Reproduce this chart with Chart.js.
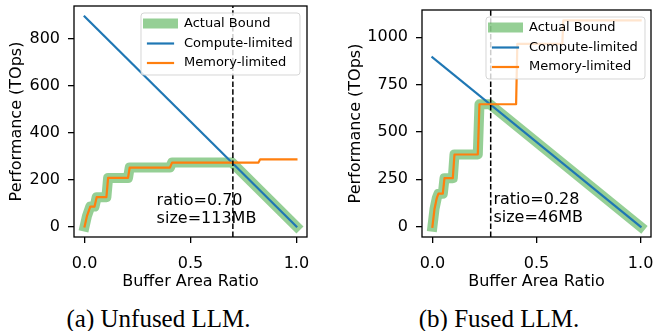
<!DOCTYPE html>
<html>
<head>
<meta charset="utf-8">
<script src="https://cdn.jsdelivr.net/npm/chart.js@4.4.1/dist/chart.umd.min.js"></script>
<style>
  html, body { margin: 0; padding: 0; background: #fff; }
  #wrap { position: relative; width: 654px; height: 331px; overflow: hidden; background: #fff; }
  canvas { position: absolute; top: 0; }
  .cap { position: absolute; top: 306px; font-family: "Liberation Serif", "Times New Roman", serif;
         font-size: 25px; line-height: 25px; white-space: nowrap; color: #000; transform: translateX(-50%); }
</style>
</head>
<body>
<div id="wrap">
  <canvas id="cA" width="327" height="300" style="left:0px"></canvas>
  <canvas id="cB" width="327" height="300" style="left:327px"></canvas>
  <div class="cap" style="left:158.5px">(a) Unfused LLM.</div>
  <div class="cap" style="left:499px">(b) Fused LLM.</div>
</div>
<script>
// ---------- data ----------
const seriesLabels = ['Actual Bound', 'Compute-limited', 'Memory-limited'];
const xTicks = [0, 0.5, 1.0];

// (a) unfused
const unfusedYTicks = [0, 200, 400, 600, 800];
const unfusedComputeX = [0, 1.0];
const unfusedComputeY = [894, 0];
const unfusedMemX = [0, 0.011, 0.027, 0.047, 0.057, 0.103, 0.111, 0.205, 0.213, 0.403, 0.413, 0.821, 0.829, 1.0];
const unfusedMemY = [0, 44, 85, 85, 125, 125, 207, 207, 251, 251, 272, 272, 286, 286];
const unfusedBoundX = [0, 0.011, 0.027, 0.047, 0.057, 0.103, 0.111, 0.205, 0.213, 0.403, 0.413, 0.696, 1.0];
const unfusedBoundY = [0, 44, 85, 85, 125, 125, 207, 207, 251, 251, 272, 272, 0];
const unfusedRatio = 0.70;
const unfusedSize = '113MB';

// (b) fused
const fusedYTicks = [0, 250, 500, 750, 1000];
const fusedComputeX = [0, 1.0];
const fusedComputeY = [894, 0];
const fusedMemX = [0, 0.01, 0.021, 0.029, 0.05, 0.058, 0.098, 0.106, 0.218, 0.226, 0.402, 0.408, 0.624, 0.629, 1.0];
const fusedMemY = [0, 93, 151, 174, 174, 256, 256, 381, 381, 646, 646, 965, 965, 1089, 1089];
const fusedBoundX = [0, 0.01, 0.021, 0.029, 0.05, 0.058, 0.098, 0.106, 0.218, 0.226, 0.277, 1.0];
const fusedBoundY = [0, 93, 151, 174, 174, 256, 256, 381, 381, 646, 646, 0];
const fusedRatio = 0.28;
const fusedSize = '46MB';

// ---------- drawing ----------
const FONT = '"DejaVu Sans", "Liberation Sans", sans-serif';
const toPts = (xs, ys) => xs.map((x, i) => ({ x, y: ys[i] }));

// dashed ratio marker, annotation, axes frame and in-axes legend
const panelDecor = {
  id: 'panelDecor',
  afterDatasetsDraw(chart, args, o) {
    const { ctx, chartArea: a, scales: { x } } = chart;
    ctx.save();
    // vertical marker
    const px = x.getPixelForValue(o.ratio);
    ctx.strokeStyle = '#000';
    ctx.lineWidth = 1.5;
    ctx.setLineDash([5.5, 2.4]);
    ctx.beginPath();
    ctx.moveTo(px, a.bottom);
    ctx.lineTo(px, a.top);
    ctx.stroke();
    ctx.setLineDash([]);

    // annotation text
    ctx.fillStyle = '#000';
    ctx.font = '16px ' + FONT;
    ctx.textAlign = 'left';
    ctx.textBaseline = 'alphabetic';
    const tx = x.getPixelForValue(o.textX);
    ctx.fillText('ratio=' + o.ratio.toFixed(2), tx, a.bottom - o.textBottom - 18);
    ctx.fillText('size=' + o.size, tx, a.bottom - o.textBottom);

    // frame
    ctx.lineWidth = 1.3;
    ctx.strokeStyle = '#000';
    ctx.strokeRect(a.left, a.top, a.right - a.left, a.bottom - a.top);

    // legend
    const w = 159, h = 62;
    const bx = a.right - o.legendInset - w, by = a.top + 7;
    ctx.beginPath();
    ctx.roundRect(bx, by, w, h, 3);
    ctx.fillStyle = 'rgba(255,255,255,0.8)';
    ctx.fill();
    ctx.lineWidth = 1;
    ctx.strokeStyle = 'rgba(204,204,204,0.8)';
    ctx.stroke();
    const rows = [10.5, 30.5, 50];
    chart.data.datasets.forEach((ds, i) => {
      const ry = by + rows[i];
      ctx.beginPath();
      ctx.lineCap = 'square';
      ctx.strokeStyle = ds.borderColor;
      ctx.lineWidth = ds.borderWidth;
      ctx.moveTo(bx + 7, ry);
      ctx.lineTo(bx + 32, ry);
      ctx.stroke();
      ctx.fillStyle = '#000';
      ctx.font = '13px ' + FONT;
      ctx.textBaseline = 'middle';
      ctx.fillText(ds.label, bx + 43, ry);
    });
    ctx.restore();
  }
};

function makePanel(id, g, d) {
  const H = 300, W = 327;
  const all = d.memY.concat(d.computeY, d.boundY);
  const yLo = Math.min(...all), yHi = Math.max(...all);
  const yPad = 0.05 * (yHi - yLo);
  const axisFont = { family: FONT, size: 16 };

  new Chart(document.getElementById(id), {
    type: 'scatter',
    data: {
      datasets: [
        { label: seriesLabels[0], data: toPts(d.boundX, d.boundY), showLine: true,
          borderColor: 'rgba(44,160,44,0.5)', borderWidth: 10, pointRadius: 0,
          borderJoinStyle: 'round', borderCapStyle: 'square', order: 3 },
        { label: seriesLabels[1], data: toPts(d.computeX, d.computeY), showLine: true,
          borderColor: '#1f77b4', borderWidth: 2.2, pointRadius: 0,
          borderJoinStyle: 'round', borderCapStyle: 'square', order: 2 },
        { label: seriesLabels[2], data: toPts(d.memX, d.memY), showLine: true,
          borderColor: '#ff7f0e', borderWidth: 2.2, pointRadius: 0,
          borderJoinStyle: 'round', borderCapStyle: 'square', order: 1 }
      ]
    },
    options: {
      responsive: false,
      animation: false,
      devicePixelRatio: 1,
      layout: { padding: { left: 0, top: g.top, right: W - g.right, bottom: 0 } },
      plugins: {
        legend: { display: false },
        tooltip: { enabled: false },
        panelDecor: d.decor
      },
      scales: {
        x: {
          type: 'linear', min: -0.05, max: 1.05,
          afterBuildTicks: s => { s.ticks = xTicks.map(v => ({ value: v })); },
          afterFit: s => { s.height = H - g.bottom; s.paddingLeft = 0; s.paddingRight = 0; },
          ticks: { font: axisFont, color: '#000', padding: 11, maxRotation: 0, autoSkip: false,
                   callback: v => Number(v).toFixed(1) },
          grid: { drawOnChartArea: false, drawTicks: true, tickLength: 6, color: '#000', lineWidth: 1.3 },
          border: { display: false },
          title: { display: true, text: 'Buffer Area Ratio', font: axisFont, color: '#000',
                   padding: { top: 0, bottom: 8.5 } }
        },
        y: {
          type: 'linear', min: yLo - yPad, max: yHi + yPad,
          afterBuildTicks: s => { s.ticks = d.yTicks.map(v => ({ value: v })); },
          afterFit: s => { s.width = g.left; s.paddingTop = 0; s.paddingBottom = 0; },
          ticks: { font: axisFont, color: '#000', padding: 8, autoSkip: false,
                   callback: v => String(v) },
          grid: { drawOnChartArea: false, drawTicks: true, tickLength: 6, color: '#000', lineWidth: 1.3 },
          border: { display: false },
          title: { display: true, text: 'Performance (TOps)', font: axisFont, color: '#000',
                   padding: { top: g.titlePad, bottom: 0 } }
        }
      }
    },
    plugins: [panelDecor]
  });
}

makePanel('cA', { left: 74, right: 307, top: 6, bottom: 237, titlePad: 7 }, {
  yTicks: unfusedYTicks,
  computeX: unfusedComputeX, computeY: unfusedComputeY,
  memX: unfusedMemX, memY: unfusedMemY,
  boundX: unfusedBoundX, boundY: unfusedBoundY,
  decor: { ratio: unfusedRatio, size: unfusedSize, textX: 0.34, textBottom: 14, legendInset: 7 }
});

makePanel('cB', { left: 95, right: 324, top: 10, bottom: 237, titlePad: 19 }, {
  yTicks: fusedYTicks,
  computeX: fusedComputeX, computeY: fusedComputeY,
  memX: fusedMemX, memY: fusedMemY,
  boundX: fusedBoundX, boundY: fusedBoundY,
  decor: { ratio: fusedRatio, size: fusedSize, textX: 0.293, textBottom: 15, legendInset: 6 }
});
</script>
</body>
</html>
